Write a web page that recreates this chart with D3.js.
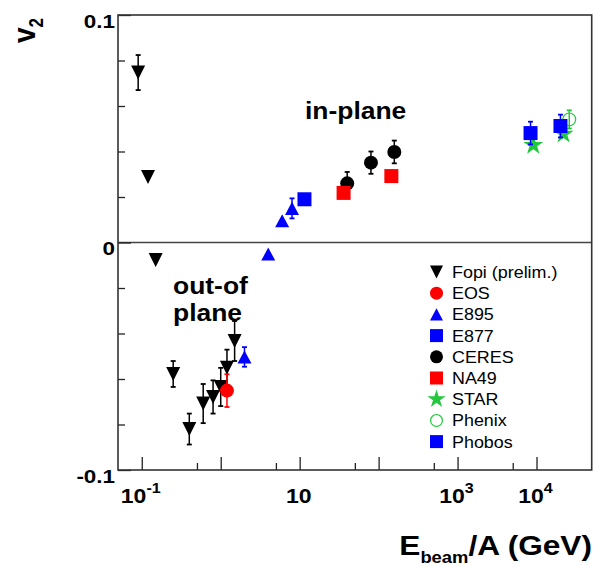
<!DOCTYPE html>
<html>
<head>
<meta charset="utf-8">
<script src="https://cdn.jsdelivr.net/npm/d3@7"></script>
<style>
  html, body { margin: 0; padding: 0; background: #fff; }
  svg { display: block; }
  text { font-family: "Liberation Sans", Arial, Helvetica, sans-serif; fill: #000; }
</style>
</head>
<body>
<svg id="chart" width="594" height="566"></svg>
<script>
// Elliptic flow v2 versus beam energy per nucleon (GeV), one set of arrays per experiment
const fopiE   = [0.09, 0.12, 0.15, 0.25, 0.4, 0.6, 0.8, 1.0, 1.2, 1.5];
const fopiV2  = [0.0747, 0.0288, -0.0077, -0.0578, -0.0820, -0.0708, -0.0679, -0.0635, -0.0551, -0.0433];
const fopiErr = [0.0077, 0, 0, 0.0057, 0.0068, 0.0086, 0.0073, 0.0084, 0.0080, 0.0088];

const eosE   = [1.2];
const eosV2  = [-0.0651];
const eosErr = [0.0072];

const e895E   = [2, 4, 6, 8];
const e895V2  = [-0.0503, -0.0051, 0.0096, 0.0150];
const e895Err = [0.0043, 0, 0, 0.0044];

const e877E   = [11.5];
const e877V2  = [0.0190];
const e877Err = [0];

const ceresE   = [40, 80, 158];
const ceresV2  = [0.0260, 0.0351, 0.0398];
const ceresErr = [0.0050, 0.0049, 0.0050];

const na49E   = [36, 145];
const na49V2  = [0.0218, 0.0292];
const na49Err = [0, 0];

const starE   = [9100, 22000];
const starV2  = [0.0428, 0.0477];
const starErr = [0, 0];

const phenixE   = [26000];
const phenixV2  = [0.0541];
const phenixErr = [0.0040];

const phobosE   = [8400, 20100];
const phobosV2  = [0.0481, 0.0512];
const phobosErr = [0.0050, 0.0050];

// axis ticks and labels
const xMajorTicks = [0.1, 1, 10, 100, 1000, 10000];
const xMinorTicks = [0.5, 5, 50, 500, 5000];
const xLabelValues = [0.1, 10, 1000, 10000];
const xLabelExps   = ["-1", "", "3", "4"];
const yMajorTicks = [-0.1, 0, 0.1];
const yMinorTicks = [-0.08, -0.06, -0.04, -0.02, 0.02, 0.04, 0.06, 0.08];
const yTickLabels = ["-0.1", "0", "0.1"];

const legendNames = ["Fopi (prelim.)", "EOS", "E895", "E877", "CERES", "NA49", "STAR", "Phenix", "Phobos"];

const RED = "#ff0000", BLUE = "#0000ff", GREEN = "#22c83c", BLACK = "#000000";

const series = [
  { name: legendNames[0], e: fopiE,   v: fopiV2,   err: fopiErr,   shape: "tdown",   color: BLACK },
  { name: legendNames[1], e: eosE,    v: eosV2,    err: eosErr,    shape: "circle",  color: RED },
  { name: legendNames[2], e: e895E,   v: e895V2,   err: e895Err,   shape: "tup",     color: BLUE },
  { name: legendNames[3], e: e877E,   v: e877V2,   err: e877Err,   shape: "square",  color: BLUE },
  { name: legendNames[4], e: ceresE,  v: ceresV2,  err: ceresErr,  shape: "circle",  color: BLACK },
  { name: legendNames[5], e: na49E,   v: na49V2,   err: na49Err,   shape: "square",  color: RED },
  { name: legendNames[6], e: starE,   v: starV2,   err: starErr,   shape: "star",    color: GREEN },
  { name: legendNames[7], e: phenixE, v: phenixV2, err: phenixErr, shape: "ocircle", color: GREEN },
  { name: legendNames[8], e: phobosE, v: phobosV2, err: phobosErr, shape: "square",  color: BLUE }
];

const svg = d3.select("#chart");
const L = 118, R = 591.7, T = 15, B = 470;

const x = d3.scaleLog().domain([0.05, 50000]).range([L, R]);
const y = d3.scaleLinear().domain([-0.1, 0.1]).range([B, T]);

// horizontally widened text, anchored at (px, py)
function wtext(g, px, py, anchor, size, weight, sx) {
  return g.append("text")
    .attr("transform", `translate(${px},${py}) scale(${sx},1)`)
    .attr("text-anchor", anchor)
    .attr("font-size", size)
    .attr("font-weight", weight);
}

// marker path generator
function markerPath(shape, s) {
  if (shape === "tdown") {
    const w = s, h = s;
    return `M${-w/2},${-h/2}L${w/2},${-h/2}L0,${h/2}Z`;
  }
  if (shape === "tup") {
    const w = s, h = s * 0.93;
    return `M${-w/2},${h/2}L${w/2},${h/2}L0,${-h/2}Z`;
  }
  if (shape === "square") {
    return `M${-s/2},${-s/2}h${s}v${s}h${-s}Z`;
  }
  if (shape === "star") {
    const Rr = s * 0.75;
    return d3.symbol(d3.symbolStar, Rr * Rr / 0.8908130915292852)();
  }
  const r = s / 2;
  return `M${r},0A${r},${r},0,1,1,${-r},0A${r},${r},0,1,1,${r},0Z`;
}

function drawMarker(g, shape, color, cx, cy, s) {
  const open = shape === "ocircle";
  g.append("path")
    .attr("transform", `translate(${cx},${cy})`)
    .attr("d", markerPath(open ? "circle" : shape, open ? s - 1.2 : s))
    .attr("fill", open ? "none" : color)
    .attr("stroke", open ? color : "none")
    .attr("stroke-width", open ? 1.2 : 0);
}

// zero line
svg.append("line")
  .attr("x1", L).attr("x2", R)
  .attr("y1", y(0)).attr("y2", y(0))
  .attr("stroke", "#444").attr("stroke-width", 1.3);

// axes ticks (pointing inward)
function tickAxis(axis, tx, ty) {
  const g = svg.append("g").attr("transform", `translate(${tx},${ty})`).call(axis);
  g.select(".domain").remove();
  g.selectAll("text").remove();
  g.selectAll("line").attr("stroke", "#222").attr("stroke-width", 1.3);
  return g;
}
tickAxis(d3.axisBottom(x).tickValues(xMajorTicks).tickSize(-13).tickSizeOuter(0).tickFormat(""), 0, B);
tickAxis(d3.axisBottom(x).tickValues(xMinorTicks).tickSize(-7).tickSizeOuter(0).tickFormat(""), 0, B);
tickAxis(d3.axisLeft(y).tickValues(yMajorTicks).tickSize(-13).tickSizeOuter(0).tickFormat(""), L, 0);
tickAxis(d3.axisLeft(y).tickValues(yMinorTicks).tickSize(-7).tickSizeOuter(0).tickFormat(""), L, 0);

// frame
svg.append("rect")
  .attr("x", L).attr("y", T).attr("width", R - L).attr("height", B - T)
  .attr("fill", "none").attr("stroke", "#333").attr("stroke-width", 1.6);

// tick labels
yMajorTicks.forEach((v, i) => {
  wtext(svg, 115, y(v) + 12.5, "end", 19, "bold", 1.18).text(yTickLabels[i]);
});
xLabelValues.forEach((v, i) => {
  const t = wtext(svg, x(v) - 1, 503, "middle", 20, "bold", 1.15);
  t.append("tspan").text("10");
  if (xLabelExps[i]) {
    t.append("tspan").attr("font-size", 14).attr("dy", -10).text(xLabelExps[i]);
  }
});

// axis titles
const xt = wtext(svg, 592, 555, "end", 27.5, "bold", 1.15);
xt.append("tspan").text("E");
xt.append("tspan").attr("font-size", 16).attr("dy", 8).text("beam");
xt.append("tspan").attr("dy", -8).text("/A (GeV)");

const yt = svg.append("text")
  .attr("transform", "translate(35,43) rotate(-90) scale(1,1.15)")
  .attr("font-size", 28).attr("font-weight", "bold");
yt.append("tspan").text("v");
yt.append("tspan").attr("font-size", 17).attr("dy", 7).text("2");

// annotations
wtext(svg, 305, 119, "start", 23, "bold", 1.15).text("in-plane");
wtext(svg, 173, 294, "start", 23, "bold", 1.15).text("out-of");
wtext(svg, 173, 321, "start", 23, "bold", 1.15).text("plane");

// data: error bars then markers, per experiment
const plot = svg.append("g");
series.forEach(s => {
  const g = plot.append("g");
  s.e.forEach((e, i) => {
    const err = s.err[i];
    if (err > 0) {
      const cx = x(e), y1 = y(s.v[i] - err), y2 = y(s.v[i] + err);
      const col = s.color;
      g.append("line").attr("x1", cx).attr("x2", cx).attr("y1", y1).attr("y2", y2)
        .attr("stroke", col).attr("stroke-width", 1.5);
      [y1, y2].forEach(yy => g.append("line")
        .attr("x1", cx - 2.5).attr("x2", cx + 2.5).attr("y1", yy).attr("y2", yy)
        .attr("stroke", col).attr("stroke-width", 1.8));
    }
  });
  s.e.forEach((e, i) => {
    drawMarker(g, s.shape, s.color, x(e), y(s.v[i]), s.shape === "star" ? 14 : 14);
  });
});

// legend
const lg = svg.append("g");
series.forEach((s, i) => {
  const cy = 272 + i * 21.2;
  drawMarker(lg, s.shape, s.color, 436.5, cy, s.shape === "star" ? 12.8 : 13);
  wtext(lg, 452, cy + 6, "start", 16, "normal", 1.12).text(s.name);
});
</script>
</body>
</html>
